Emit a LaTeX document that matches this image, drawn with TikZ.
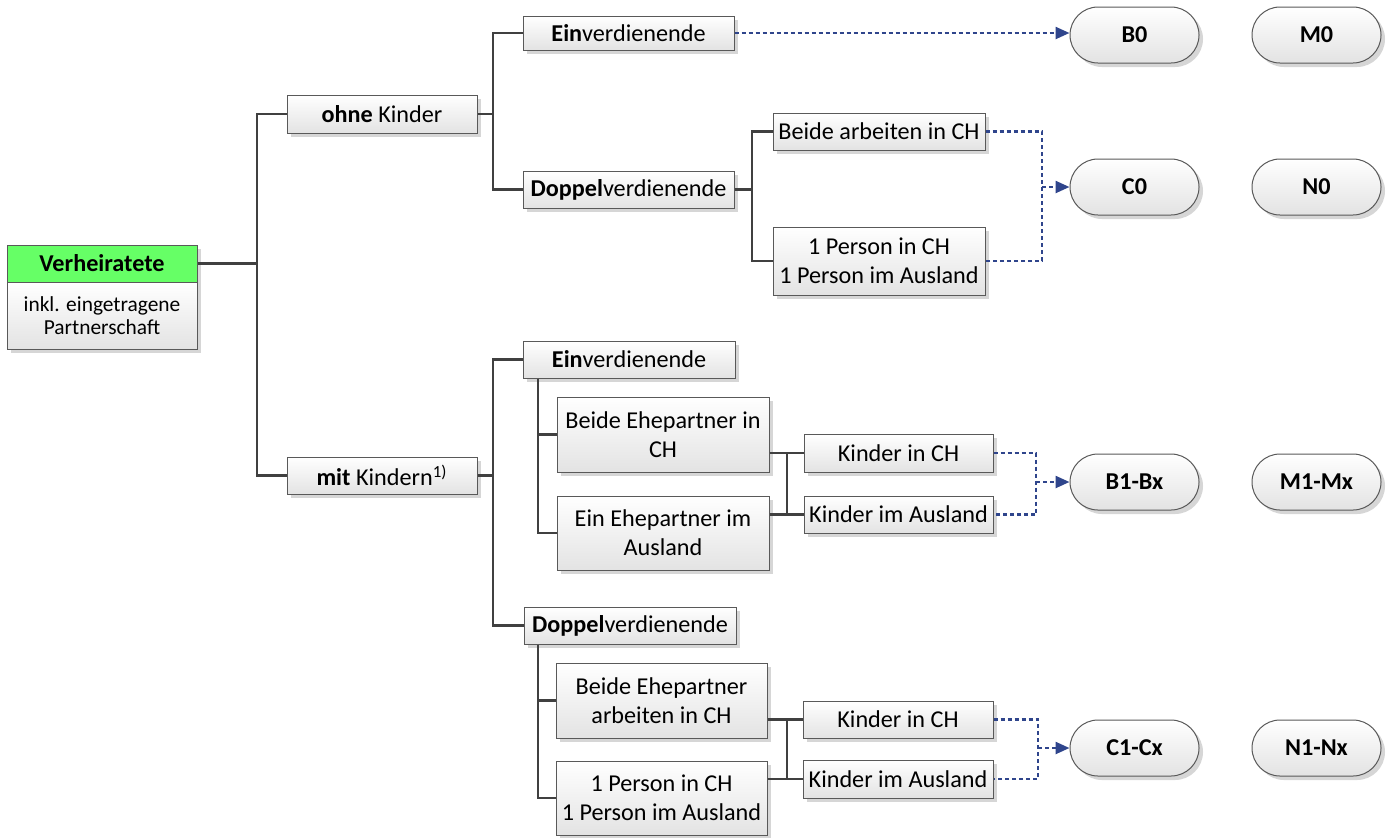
\documentclass[tikz,border=0pt]{standalone}
\usepackage{fontspec}
\setmainfont{Carlito}
\usepackage{tikz}
\usetikzlibrary{positioning,
				arrows.meta,
				shadows,
				calc}

\definecolor{headgreen}{RGB}{102,255,102}
\definecolor{linkblue}{RGB}{47,69,140}
\definecolor{conngray}{RGB}{64,64,64}

\tikzset{
	box/.style={draw=black!65, line width=0.5pt, top color=white, bottom color=black!11,
		drop shadow={shadow xshift=2pt, shadow yshift=-2pt, fill=black!16, opacity=1},
		align=center, inner sep=0pt, font=\fontsize{12.1}{14.5}\selectfont},
	pill/.style={box, rounded corners=14pt, minimum width=64.5pt, minimum height=28pt,
		font=\fontsize{12.1}{14.5}\selectfont\bfseries},
	conn/.style={draw=conngray, line width=1.4pt},
	link/.style={draw=linkblue, line width=1.2pt, dash pattern=on 2pt off 1.5pt},
	linkarrow/.style={link, -{Triangle[length=7pt,width=6pt]}}
}

\begin{document}
\begin{tikzpicture}[x=0.5pt, y=-0.5pt]
	\useasboundingbox (0,0) rectangle (1392,837);

	% root
	\node[box, top color=headgreen, bottom color=headgreen,
		minimum width=95pt, minimum height=18.5pt] (verh) at (102,263.5) {\textbf{Verheiratete}};
	\node[box, minimum width=95pt, minimum height=33.5pt, font=\fontsize{10.7}{11.5}\selectfont]
		(verhtxt) at (102,315.5) {inkl. eingetragene\\Partnerschaft};

	% level 1
	\node[box, minimum width=95pt, minimum height=19pt] (ohne) at (382,114) {\textbf{ohne} Kinder};
	\node[box, minimum width=95pt, minimum height=18.5pt] (mit) at (382,475.5) {\textbf{mit} Kindern\textsuperscript{1)}};

	% ohne Kinder
	\node[box, minimum width=105.5pt, minimum height=17pt] (ein1) at (628.5,33) {\textbf{Ein}verdienende};
	\node[box, minimum width=105.5pt, minimum height=18.5pt] (dop1) at (628.5,189.5) {\textbf{Doppel}verdienende};
	\node[box, minimum width=106pt, minimum height=18.5pt] (beideCH) at (879,131.5) {Beide arbeiten in CH};
	\node[box, minimum width=106pt, minimum height=34pt] (person1) at (879,261) {1 Person in CH\\1 Person im Ausland};

	% mit Kindern
	\node[box, minimum width=106pt, minimum height=18.5pt] (ein2) at (629,359.5) {\textbf{Ein}verdienende};
	\node[box, minimum width=106pt, minimum height=37.5pt] (beideEhe) at (663,434.5) {Beide Ehepartner in\\CH};
	\node[box, minimum width=106pt, minimum height=37pt] (einEhe) at (663,533) {Ein Ehepartner im\\Ausland};
	\node[box, minimum width=94.5pt, minimum height=19pt] (kindCH1) at (898.5,453) {Kinder in CH};
	\node[box, minimum width=94.5pt, minimum height=18.5pt] (kindAus1) at (898.5,514.5) {Kinder im Ausland};

	\node[box, minimum width=106pt, minimum height=18.5pt] (dop2) at (630,625.5) {\textbf{Doppel}verdienende};
	\node[box, minimum width=105.5pt, minimum height=37.5pt] (beideArb) at (661.5,700.5) {Beide Ehepartner\\arbeiten in CH};
	\node[box, minimum width=105.5pt, minimum height=37pt] (person2) at (661.5,798) {1 Person in CH\\1 Person im Ausland};
	\node[box, minimum width=95pt, minimum height=18.5pt] (kindCH2) at (898,719.5) {Kinder in CH};
	\node[box, minimum width=95pt, minimum height=19pt] (kindAus2) at (898,779) {Kinder im Ausland};

	% codes
	\node[pill] (B0) at (1134.5,35) {B0};
	\node[pill] (M0) at (1316.5,35) {M0};
	\node[pill] (C0) at (1134.5,187) {C0};
	\node[pill] (N0) at (1316.5,187) {N0};
	\node[pill] (B1) at (1134.5,482) {B1-Bx};
	\node[pill] (M1) at (1316.5,482) {M1-Mx};
	\node[pill] (C1) at (1134.5,748) {C1-Cx};
	\node[pill] (N1) at (1316.5,748) {N1-Nx};

	% junctions
	\coordinate (t1) at (257,0);
	\coordinate (t2) at (493,0);
	\coordinate (t3) at (752,0);
	\coordinate (t4) at (538,0);
	\coordinate (t5) at (787,0);
	\coordinate (d1) at (1042,0);
	\coordinate (d2) at (1036,0);
	\coordinate (d3) at (1038,0);

	% tree
	\draw[conn] (verh.east) -- (verh.east -| t1);
	\draw[conn] (ohne.west) -- (ohne.west -| t1) -- (mit.west -| t1) -- (mit.west);
	\draw[conn] (ohne.east) -- (ohne.east -| t2);
	\draw[conn] (ein1.west) -- (ein1.west -| t2) -- (dop1.west -| t2) -- (dop1.west);
	\draw[conn] (dop1.east) -- (dop1.east -| t3);
	\draw[conn] (beideCH.west) -- (beideCH.west -| t3) -- (person1.west -| t3) -- (person1.west);
	\draw[conn] (mit.east) -- (mit.east -| t2);
	\draw[conn] (ein2.west) -- (ein2.west -| t2) -- (dop2.west -| t2) -- (dop2.west);
	\draw[conn] (t4 |- ein2.south) -- (einEhe.west -| t4) -- (einEhe.west);
	\draw[conn] (beideEhe.west -| t4) -- (beideEhe.west);
	\draw[conn] (kindCH1.west -| beideEhe.east) -- (kindCH1.west);
	\draw[conn] (kindAus1.west -| einEhe.east) -- (kindAus1.west);
	\draw[conn] (kindCH1.west -| t5) -- (kindAus1.west -| t5);
	\draw[conn] (t4 |- dop2.south) -- (person2.west -| t4) -- (person2.west);
	\draw[conn] (beideArb.west -| t4) -- (beideArb.west);
	\draw[conn] (kindCH2.west -| beideArb.east) -- (kindCH2.west);
	\draw[conn] (kindAus2.west -| person2.east) -- (kindAus2.west);
	\draw[conn] (kindCH2.west -| t5) -- (kindAus2.west -| t5);

	% links to codes
	\draw[linkarrow] (ein1.east) -- (ein1.east -| B0.west);
	\draw[link] (beideCH.east) -- (beideCH.east -| d1) -- (person1.east -| d1) -- (person1.east);
	\draw[linkarrow] (C0.west -| d1) -- (C0.west);
	\draw[link] (kindCH1.east) -- (kindCH1.east -| d2) -- (kindAus1.east -| d2) -- (kindAus1.east);
	\draw[linkarrow] (B1.west -| d2) -- (B1.west);
	\draw[link] (kindCH2.east) -- (kindCH2.east -| d3) -- (kindAus2.east -| d3) -- (kindAus2.east);
	\draw[linkarrow] (C1.west -| d3) -- (C1.west);
\end{tikzpicture}
\end{document}
